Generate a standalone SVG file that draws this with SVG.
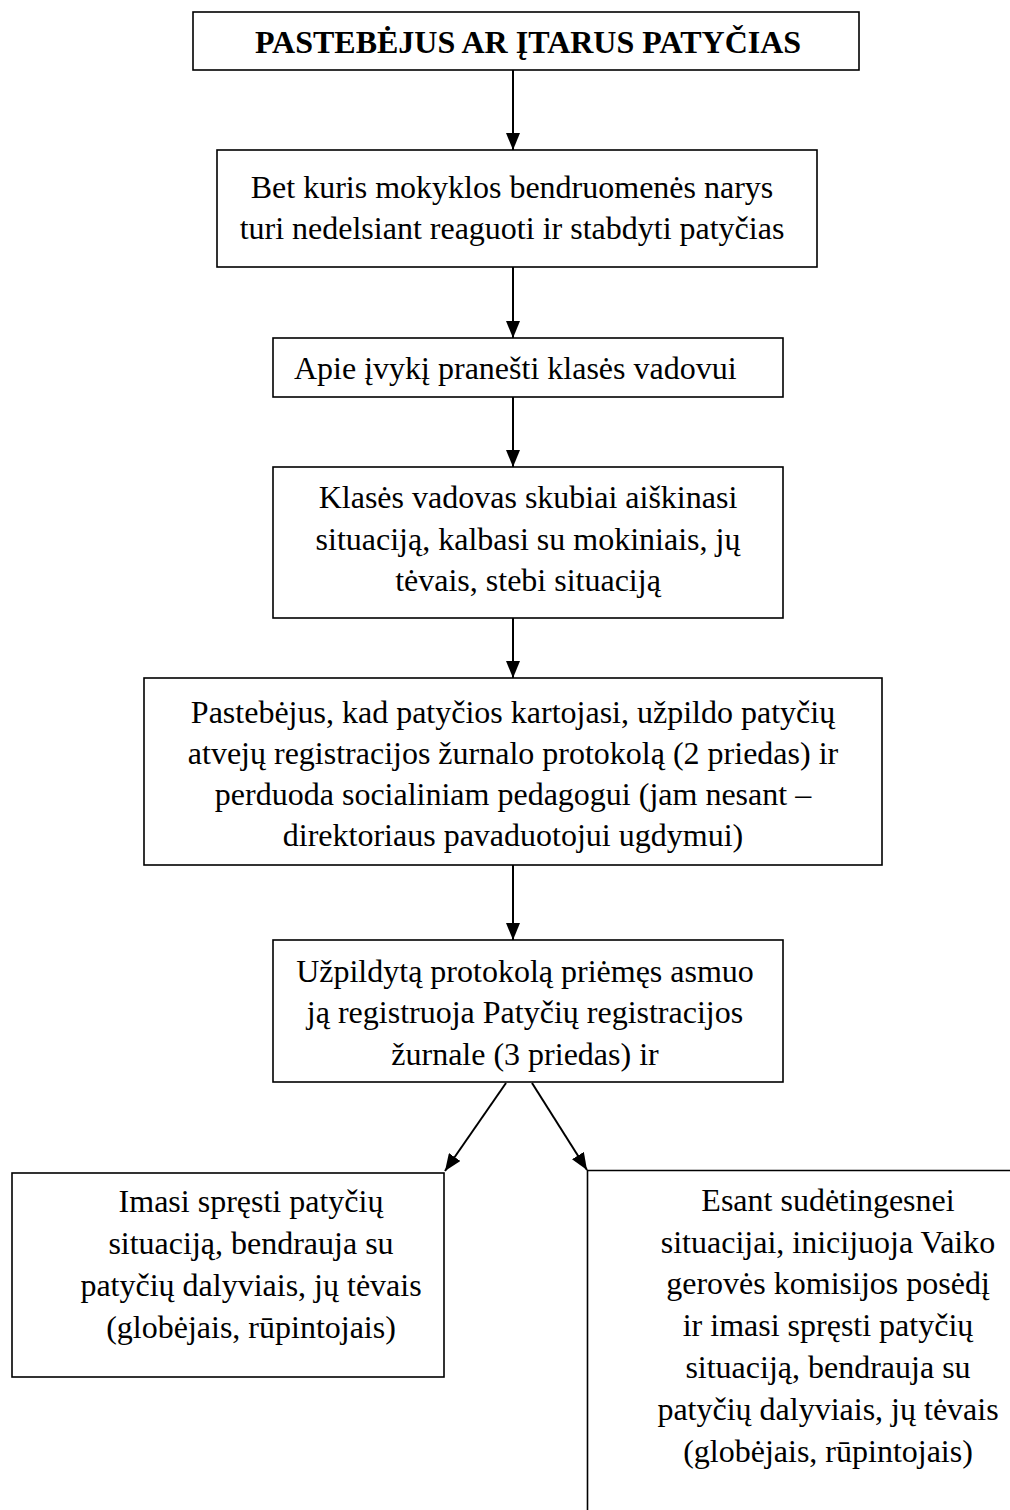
<svg xmlns="http://www.w3.org/2000/svg" width="1010" height="1510" viewBox="0 0 1010 1510">
<style>
.box{fill:#fff;stroke:#000;stroke-width:1.6}
.t{font-family:"Liberation Serif","Times New Roman",serif;font-size:32px;fill:#000;text-anchor:middle}
.b{font-weight:bold}
.c{stroke:#000;stroke-width:2;fill:none;marker-end:url(#ah)}
</style>
<defs>
<marker id="ah" viewBox="0 0 17 14" refX="17" refY="7" markerWidth="17" markerHeight="14" markerUnits="userSpaceOnUse" orient="auto">
<path d="M0,0 L17,7 L0,14 z" fill="#000"/>
</marker>
</defs>
<rect width="1010" height="1510" fill="#fff"/>
<g id="n1">
<rect class="box" x="193" y="12" width="666" height="58"/>
<text class="t b" x="528" y="53">PASTEBĖJUS AR ĮTARUS PATYČIAS</text>
</g>
<g id="n2">
<rect class="box" x="217" y="150" width="600" height="117"/>
<text class="t" x="512" y="198">Bet kuris mokyklos bendruomenės narys</text>
<text class="t" x="512" y="239">turi nedelsiant reaguoti ir stabdyti patyčias</text>
</g>
<g id="n3">
<rect class="box" x="273" y="338" width="510" height="59"/>
<text class="t" x="294" y="379" style="text-anchor:start">Apie įvykį pranešti klasės vadovui</text>
</g>
<g id="n4">
<rect class="box" x="273" y="467" width="510" height="151"/>
<text class="t" x="528" y="508">Klasės vadovas skubiai aiškinasi</text>
<text class="t" x="528" y="549.5">situaciją, kalbasi su mokiniais, jų</text>
<text class="t" x="528" y="591">tėvais, stebi situaciją</text>
</g>
<g id="n5">
<rect class="box" x="144" y="678" width="738" height="187"/>
<text class="t" x="513" y="723">Pastebėjus, kad patyčios kartojasi, užpildo patyčių</text>
<text class="t" x="513" y="764">atvejų registracijos žurnalo protokolą (2 priedas) ir</text>
<text class="t" x="513" y="805">perduoda socialiniam pedagogui (jam nesant –</text>
<text class="t" x="513" y="846">direktoriaus pavaduotojui ugdymui)</text>
</g>
<g id="n6">
<rect class="box" x="273" y="940" width="510" height="142"/>
<text class="t" x="525" y="982">Užpildytą protokolą priėmęs asmuo</text>
<text class="t" x="525" y="1023">ją registruoja Patyčių registracijos</text>
<text class="t" x="525" y="1065">žurnale (3 priedas) ir</text>
</g>
<g id="n7">
<rect class="box" x="12" y="1173" width="432" height="204"/>
<text class="t" x="251" y="1212">Imasi spręsti patyčių</text>
<text class="t" x="251" y="1254">situaciją, bendrauja su</text>
<text class="t" x="251" y="1296">patyčių dalyviais, jų tėvais</text>
<text class="t" x="251" y="1338">(globėjais, rūpintojais)</text>
</g>
<g id="n8">
<path d="M1010,1170.5 H587.5 V1510" fill="none" stroke="#000" stroke-width="1.6"/>
<text class="t" x="828" y="1211">Esant sudėtingesnei</text>
<text class="t" x="828" y="1253">situacijai, inicijuoja Vaiko</text>
<text class="t" x="828" y="1294">gerovės komisijos posėdį</text>
<text class="t" x="828" y="1336">ir imasi spręsti patyčių</text>
<text class="t" x="828" y="1378">situaciją, bendrauja su</text>
<text class="t" x="828" y="1420">patyčių dalyviais, jų tėvais</text>
<text class="t" x="828" y="1462">(globėjais, rūpintojais)</text>
</g>
<g id="connectors">
<line class="c" x1="513" y1="70" x2="513" y2="150"/>
<line class="c" x1="513" y1="267" x2="513" y2="338"/>
<line class="c" x1="513" y1="397" x2="513" y2="467"/>
<line class="c" x1="513" y1="618" x2="513" y2="678"/>
<line class="c" x1="513" y1="865" x2="513" y2="940"/>
<line class="c" x1="506" y1="1083" x2="445" y2="1171"/>
<line class="c" x1="532" y1="1083" x2="587" y2="1170"/>
</g>
</svg>
